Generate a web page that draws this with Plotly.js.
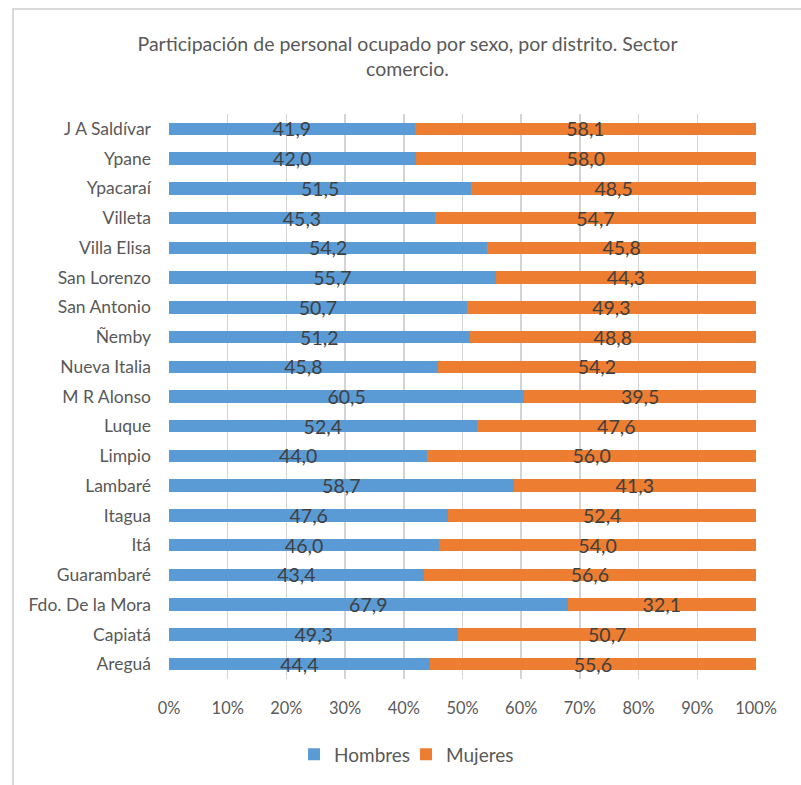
<!DOCTYPE html>
<html>
<head>
<meta charset="utf-8">
<script src="https://cdn.plot.ly/plotly-3.0.1.min.js"></script>
<style>
  body { margin: 0; background: #fff; }
  #frame { position: absolute; left: 12px; top: 8px; width: 789px; height: 777px;
           border-left: 2px solid #D9D9D9; border-top: 2px solid #D9D9D9; box-sizing: border-box; }
  #chart { width: 787px; height: 775px; }
</style>
</head>
<body>
<div id="frame"><div id="chart"></div></div>
<script>
const categories = ["Areguá", "Capiatá", "Fdo. De la Mora", "Guarambaré", "Itá", "Itagua", "Lambaré",
  "Limpio", "Luque", "M R Alonso", "Nueva Italia", "Ñemby", "San Antonio", "San Lorenzo",
  "Villa Elisa", "Villeta", "Ypacaraí", "Ypane", "J A Saldívar"];
const hombres = [44.4, 49.3, 67.9, 43.4, 46.0, 47.6, 58.7, 44.0, 52.4, 60.5, 45.8, 51.2, 50.7, 55.7, 54.2, 45.3, 51.5, 42.0, 41.9];
const mujeres = [55.6, 50.7, 32.1, 56.6, 54.0, 52.4, 41.3, 56.0, 47.6, 39.5, 54.2, 48.8, 49.3, 44.3, 45.8, 54.7, 48.5, 58.0, 58.1];
const seriesNames = ["Hombres", "Mujeres"];
const colors = ["#5B9BD5", "#ED7D31"];

const FONT = "Lato, 'Open Sans', sans-serif";
const fmt = v => v.toFixed(1).replace('.', ',');

const traces = [hombres, mujeres].map((vals, i) => ({
  type: 'bar',
  orientation: 'h',
  name: seriesNames[i],
  y: categories,
  x: vals,
  text: vals.map(fmt),
  textposition: 'inside',
  insidetextanchor: 'middle',
  constraintext: 'none',
  textfont: { family: FONT, size: 19.5, color: '#404040' },
  marker: { color: colors[i] },
  hoverinfo: 'x+y+name'
}));

const layout = {
  width: 787, height: 775,
  margin: { l: 155, r: 45, t: 104, b: 102 },
  paper_bgcolor: '#fff', plot_bgcolor: 'rgba(0,0,0,0)',
  barmode: 'stack',
  bargap: 0.58,
  font: { family: FONT, color: '#595959', size: 16 },
  title: {
    text: 'Participación de personal ocupado por sexo, por distrito. Sector<br>comercio.',
    font: { family: FONT, size: 19.5, color: '#595959' },
    x: 0.5, xanchor: 'center', y: 0.947, yanchor: 'top'
  },
  xaxis: {
    range: [0, 100], dtick: 10, ticksuffix: '%',
    showgrid: true, gridcolor: '#D4D4D4', gridwidth: 1.5,
    zeroline: false, showline: false, ticks: '',
    ticklabelstandoff: 18,
    tickfont: { family: FONT, size: 16.4, color: '#595959' },
    fixedrange: true
  },
  yaxis: {
    type: 'category',
    categoryorder: 'array', categoryarray: categories,
    showgrid: false, zeroline: false, showline: false,
    ticks: '', automargin: false,
    ticklabelstandoff: 17,
    tickfont: { family: FONT, size: 17.5, color: '#595959' },
    fixedrange: true
  },
  legend: {
    orientation: 'h', x: 0.213, xanchor: 'left', y: -0.1, yanchor: 'top',
    font: { family: FONT, size: 19, color: '#595959' },
    entrywidth: 67, entrywidthmode: 'pixels',
    traceorder: 'normal'
  },
  showlegend: true
};

Plotly.newPlot('chart', traces, layout, { displayModeBar: false, staticPlot: true });
</script>
</body>
</html>
